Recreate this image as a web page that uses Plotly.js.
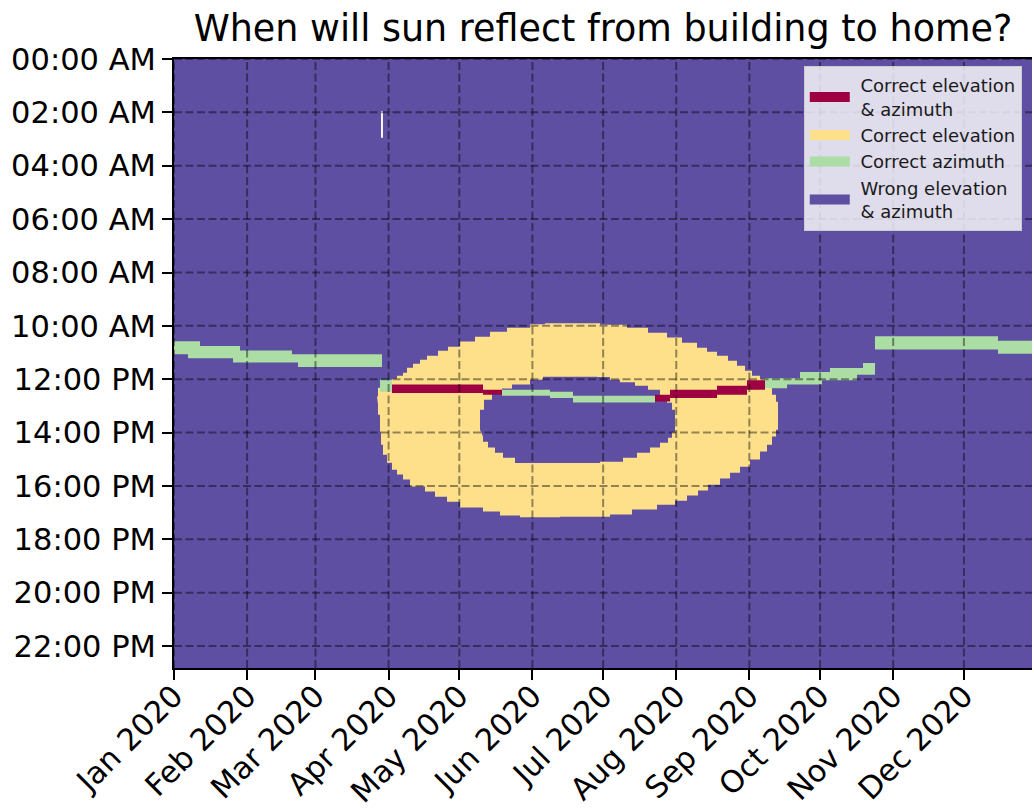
<!DOCTYPE html>
<html>
<head>
<meta charset="utf-8">
<script src="https://cdn.plot.ly/plotly-3.0.1.min.js"></script>
<style>body{margin:0;background:#fff;} #chart{width:1034px;height:810px;}</style>
</head>
<body>
<div id="chart"></div>
<script>
// ---------- axis ticks ----------
const monthTicks = ['2020-01-01','2020-02-01','2020-03-01','2020-04-01','2020-05-01','2020-06-01',
                    '2020-07-01','2020-08-01','2020-09-01','2020-10-01','2020-11-01','2020-12-01'];
const monthLabels = ['Jan 2020','Feb 2020','Mar 2020','Apr 2020','May 2020','Jun 2020',
                     'Jul 2020','Aug 2020','Sep 2020','Oct 2020','Nov 2020','Dec 2020'];
const hourTicks = [0,2,4,6,8,10,12,14,16,18,20,22];
const hourLabels = ['00:00 AM','02:00 AM','04:00 AM','06:00 AM','08:00 AM','10:00 AM',
                    '12:00 PM','14:00 PM','16:00 PM','18:00 PM','20:00 PM','22:00 PM'];

// ---------- regions (day offset from 1 Jan 2020, hour of day) ----------
// Correct elevation: outer boundary of the ring
const elevOuterDays = [86.09,86.51,87.79,92.45,94.57,97.12,98.81,101.36,104.33,107.29,111.96,116.2,121.29,127.65,
  134.01,141.22,150.98,157.34,173.45,180.66,192.11,201.02,209.08,215.44,221.8,226.04,230.28,234.95,238.76,242.15,
  245.12,248.52,251.48,253.6,255.3,256.15,256.15,255.3,253.6,251.48,248.52,244.27,240.03,235.79,231.55,226.46,
  222.22,217.56,212.47,204.83,194.23,184.9,163.7,146.73,138.25,131.04,121.29,115.78,110.69,106.45,100.08,97.12,
  94.57,92.45,90.33,88.63,87.79,87.36,86.51];
const elevOuterHours = [12.65,12.32,12.06,11.98,11.87,11.76,11.57,11.42,11.27,11.12,10.93,10.78,10.59,10.41,
  10.22,10.07,9.94,9.90,9.90,9.96,10.07,10.26,10.44,10.63,10.82,10.97,11.12,11.31,11.49,11.68,
  11.87,11.98,12.21,12.58,12.84,13.14,13.89,14.15,14.45,14.71,15.01,15.28,15.5,15.72,15.95,16.17,
  16.36,16.55,16.7,16.88,17.07,17.15,17.17,17.11,16.96,16.81,16.59,16.4,16.21,16.02,15.76,15.57,
  15.39,15.13,14.83,14.45,13.96,13.33,12.95];
// hole inside the ring (wrong elevation)
const elevHoleDays = [129.77,129.77,131.47,134.86,139.1,143.34,150.98,156.49,179.39,184.9,189.14,195.5,201.02,
  206.11,209.08,211.2,212.47,212.47,211.2,209.5,206.11,201.87,196.35,190.42,180.66,157.34,144.61,139.52,
  136.13,133.16,131.04];
const elevHoleHours = [13.89,13.14,12.77,12.54,12.35,12.2,12.02,11.91,11.92,12.02,12.11,12.24,12.39,
  12.62,12.88,13.14,13.4,14.0,14.19,14.38,14.56,14.75,14.94,15.09,15.14,15.14,14.94,14.75,
  14.56,14.34,14.15];

// Correct azimuth band, Jan - Mar
const azJanMarDays = [0,11.03,11.03,27.99,27.99,50.04,50.04,88.21,88.21,52.59,52.59,25.02,25.02,5.94,5.94,0];
const azJanMarHours = [10.58,10.58,10.75,10.75,10.92,10.92,11.06,11.06,11.54,11.54,11.37,11.37,11.21,11.21,11.06,11.06];
// Correct azimuth band, Sep - Oct
const azSepOctDays = [250.64,265.48,265.48,278.2,278.2,292.2,292.2,297.29,297.29,289.65,289.65,274.81,274.81,259.97,259.97,250.64];
const azSepOctHours = [11.96,11.96,11.73,11.73,11.58,11.58,11.39,11.39,11.83,11.83,12.04,12.04,12.2,12.2,12.34,12.34];
// Correct azimuth band, Nov - Dec
const azNovDecDays = [297.29,349.45,349.45,366,366,349.45,349.45,297.29];
const azNovDecHours = [10.39,10.39,10.56,10.56,11.04,11.04,10.89,10.89];
// Correct azimuth pieces inside the ring / hole  [start day, end day, top hour, bottom hour]
const azMidStart = [87.36,139.1,159.46,169.21];
const azMidEnd   = [92.45,159.46,169.21,204.0];
const azMidTop   = [12.02,12.39,12.47,12.62];
const azMidBot   = [12.47,12.62,12.7,12.87];
// Correct elevation & azimuth pieces
const bothStart = [92.45,131.04,204.0,210.35,230.28,243.0];
const bothEnd   = [131.04,139.1,210.35,230.28,243.0,250.64];
const bothTop   = [12.2,12.39,12.58,12.39,12.24,12.04];
const bothBot   = [12.52,12.58,12.83,12.7,12.58,12.39];
// missing hour at daylight-saving change (29 Mar)
const dstGapDay = [87.8, 88.6];
const dstGapHours = [1.95, 2.95];

const xEndDay = 363.87;
const yBottomHour = 22.82;

const COLORS = {both:'#9e0142', elev:'#fee08b', azim:'#abdda4', wrong:'#5e4fa2'};

// ---------- helpers ----------
const T0 = Date.UTC(2020,0,1);
function d2s(d){
  if(d === null) return null;
  return new Date(T0 + d*86400000).toISOString().slice(0,19).replace('T',' ');
}
function rects(s,e,t,b){
  const xs=[], ys=[];
  for(let i=0;i<s.length;i++){
    xs.push(d2s(s[i]),d2s(e[i]),d2s(e[i]),d2s(s[i]),null);
    ys.push(t[i],t[i],b[i],b[i],null);
  }
  return {x:xs,y:ys};
}
function poly(name,xs,ys,color,shape){
  return {type:'scatter', mode:'lines', x:xs.map(d2s), y:ys, fill:'toself', fillcolor:color,
          line:{width:0,color:color,shape:shape||'linear'}, showlegend:false, hoverinfo:'skip', name:name};
}
function polyR(name,r,color){
  return {type:'scatter', mode:'lines', x:r.x, y:r.y, fill:'toself', fillcolor:color,
          line:{width:0,color:color}, showlegend:false, hoverinfo:'skip', name:name, connectgaps:false};
}

const traces = [
  poly('Correct elevation', elevOuterDays, elevOuterHours, COLORS.elev, 'hv'),
  poly('Wrong elevation & azimuth', elevHoleDays, elevHoleHours, COLORS.wrong, 'hv'),
  poly('Correct azimuth', azJanMarDays, azJanMarHours, COLORS.azim),
  poly('Correct azimuth', azSepOctDays, azSepOctHours, COLORS.azim),
  poly('Correct azimuth', azNovDecDays, azNovDecHours, COLORS.azim),
  polyR('Correct azimuth', rects(azMidStart,azMidEnd,azMidTop,azMidBot), COLORS.azim),
  polyR('Correct elevation & azimuth', rects(bothStart,bothEnd,bothTop,bothBot), COLORS.both),
  polyR('gap', rects([dstGapDay[0]],[dstGapDay[1]],[dstGapHours[0]],[dstGapHours[1]]), '#ffffff')
];
// legend entries
const NB = '\u00a0';
const legendNames = [NB+'Correct elevation<br>'+NB+'& azimuth', NB+'Correct elevation', NB+'Correct azimuth', NB+'Wrong elevation<br>'+NB+'& azimuth'];
const legendColors = [COLORS.both, COLORS.elev, COLORS.azim, COLORS.wrong];
legendNames.forEach((n,i)=>{
  traces.push({type:'scatter', mode:'lines', x:[null], y:[null], name:n,
               line:{color:legendColors[i], width:14}, hoverinfo:'skip', showlegend:true});
});

// grid lines drawn above the image
const gridLine = {color:'rgba(0,0,0,0.42)', width:2, dash:'8px,3.5px'};
const shapes = [];
monthTicks.forEach(t=>shapes.push({type:'line', layer:'above', xref:'x', yref:'paper', x0:t, x1:t, y0:0, y1:1, line:gridLine}));
hourTicks.forEach(h=>shapes.push({type:'line', layer:'above', xref:'paper', yref:'y', x0:0, x1:1, y0:h, y1:h, line:gridLine}));

const font = 'DejaVu Sans, Liberation Sans, sans-serif';
const layout = {
  width:1034, height:810,
  margin:{l:174, r:2, t:59, b:142, pad:0},
  paper_bgcolor:'#ffffff', plot_bgcolor:COLORS.wrong,
  font:{family:font, color:'#000', size:30},
  title:{text:'When will sun reflect from building to home?', font:{family:font, size:36.5, color:'#000'},
         xref:'paper', x:0.5, xanchor:'center', yref:'container', y:0.965, yanchor:'middle'},
  xaxis:{type:'date', range:[d2s(0), d2s(xEndDay)], tickvals:monthTicks, ticktext:monthLabels,
         tickangle:-45, ticks:'outside', ticklen:10, tickwidth:2, tickcolor:'#000', ticklabelstandoff:-14,
         showline:true, linewidth:2, linecolor:'#000', mirror:true, showgrid:false, zeroline:false,
         tickfont:{family:font, size:30.5, color:'#000'}},
  yaxis:{range:[yBottomHour, 0], tickvals:hourTicks, ticktext:hourLabels,
         ticks:'outside', ticklen:10, tickwidth:2, tickcolor:'#000',
         showline:true, linewidth:2, linecolor:'#000', mirror:false, showgrid:false, zeroline:false,
         tickfont:{family:font, size:30.5, color:'#000'}},
  legend:{x:0.734, y:0.9885, xanchor:'left', yanchor:'top', bgcolor:'rgba(255,255,255,0.8)',
          bordercolor:'#cccccc', borderwidth:1, font:{family:font, size:18, color:'#1a1a1a'},
          itemwidth:40, tracegroupgap:0},
  shapes:shapes,
  hovermode:false
};
Plotly.newPlot('chart', traces, layout, {staticPlot:true, displayModeBar:false});
</script>
</body>
</html>
